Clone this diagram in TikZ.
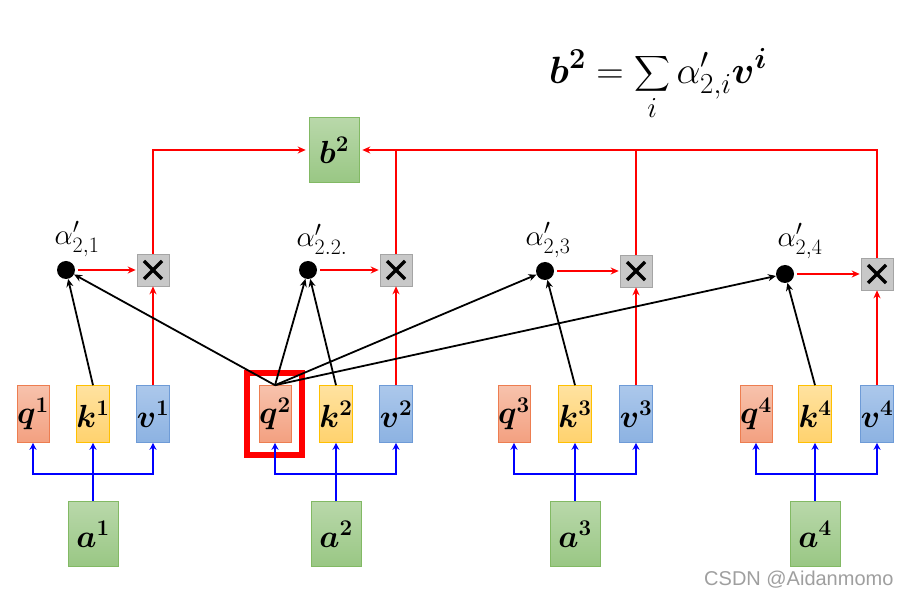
\RequirePackage{fix-cm}
\documentclass[tikz,border=0pt]{standalone}
\usepackage{fontspec}
\usepackage{amsmath}
\usepackage{bm}
\newfontfamily\markfont{Liberation Sans}
\usetikzlibrary{arrows.meta}
\DeclareMathSizes{29}{29}{22}{15}
\DeclareMathSizes{38}{38}{29}{21}
\definecolor{qtop}{RGB}{247,194,172}
\definecolor{qbot}{RGB}{243,160,128}
\definecolor{qline}{RGB}{237,125,80}
\definecolor{ktop}{RGB}{255,226,160}
\definecolor{kbot}{RGB}{255,210,110}
\definecolor{kline}{RGB}{255,192,0}
\definecolor{vtop}{RGB}{172,200,235}
\definecolor{vbot}{RGB}{140,178,226}
\definecolor{vline}{RGB}{110,155,215}
\definecolor{gtop}{RGB}{185,216,170}
\definecolor{gbot}{RGB}{153,199,132}
\definecolor{gline}{RGB}{130,185,100}
\definecolor{multfill}{RGB}{200,200,200}
\definecolor{multline}{RGB}{165,165,165}

\begin{document}
\begin{tikzpicture}[
    x=1pt, y=-1pt,
    box/.style={rectangle, line width=0.6pt, inner sep=0pt,
        minimum width=31pt, minimum height=57pt,
        font=\fontsize{32}{34}\selectfont\boldmath},
    qbox/.style={box, draw=qline, top color=qtop, bottom color=qbot},
    kbox/.style={box, draw=kline, top color=ktop, bottom color=kbot},
    vbox/.style={box, draw=vline, top color=vtop, bottom color=vbot},
    gbox/.style={box, draw=gline, top color=gtop, bottom color=gbot,
        minimum width=50pt, minimum height=65pt},
    dot/.style={circle, fill=black, inner sep=0pt, minimum size=18pt},
    mult/.style={rectangle, draw=multline, fill=multfill, line width=0.6pt,
        inner sep=0pt, minimum size=32pt,
        path picture={
            \draw[black, line width=3.2pt]
                ([shift={(-9pt,-9pt)}]path picture bounding box.center) --
                ([shift={(9pt,9pt)}]path picture bounding box.center);
            \draw[black, line width=3.2pt]
                ([shift={(-9pt,9pt)}]path picture bounding box.center) --
                ([shift={(9pt,-9pt)}]path picture bounding box.center);
        }},
    lab/.style={font=\fontsize{29}{31}\selectfont},
    ka/.style={-{Stealth[length=8pt,width=7pt]}, line width=1.8pt, draw=black},
    ra/.style={-{Stealth[length=8pt,width=7pt]}, line width=1.8pt, draw=red},
    rl/.style={line width=1.8pt, draw=red},
    ba/.style={-{Stealth[length=7pt,width=7pt]}, line width=2.4pt, draw=blue},
]
\useasboundingbox (0,0) rectangle (911,601);

% ===== formula =====
\node[font=\fontsize{38}{40}\selectfont] (eq) at (658,84)
    {$\displaystyle \bm{b}^{\bm{2}} = \sum_{i} \alpha'_{2,i}\bm{v}^{\bm{i}}$};

% ===== inputs and q, k, v =====
\foreach \n/\q/\k/\v in {1/33/93/153, 2/275/336/396, 3/514/575/636, 4/756/815/877} {
    \node[qbox] (q\n) at (\q,414) {$q^{\n}$};
    \node[kbox] (k\n) at (\k,414) {$k^{\n}$};
    \node[vbox] (v\n) at (\v,414) {$v^{\n}$};
    \node[gbox] (a\n) at (\k,534) {$a^{\n}$};
    \coordinate (j\n) at (\k,474);
}

% ===== scores and products =====
\node[dot]  (d1) at (66,270)  {};
\node[mult] (m1) at (153,270) {};
\node[dot]  (d2) at (308,270) {};
\node[mult] (m2) at (396,270) {};
\node[dot]  (d3) at (545,271) {};
\node[mult] (m3) at (636,271) {};
\node[dot]  (d4) at (785,274) {};
\node[mult] (m4) at (877,274) {};

\node[lab] (l1) at (77,239)  {$\alpha'_{2,1}$};
\node[lab] (l2) at (322,239) {$\alpha'_{2.2.}$};
\node[lab] (l3) at (548,240) {$\alpha'_{2,3}$};
\node[lab] (l4) at (800,241) {$\alpha'_{2,4}$};

\node[gbox] (b2) at (334,150) {$b^{2}$};

% highlighted query
\node[draw=red, line width=6pt, inner sep=0pt,
    minimum width=55pt, minimum height=82pt] (frame) at (274.5,414) {};

% ===== connectors =====
\foreach \n in {1,...,4} {
    \draw[ba] (a\n.north) -- (k\n.south);
    \draw[ba] (j\n) -| (q\n.south);
    \draw[ba] (j\n) -| (v\n.south);
    \draw[ra, shorten <=3pt, shorten >=1pt] (d\n.east) -- (m\n.west);
    \draw[ra] (v\n.north) -- (m\n.south);
}

\foreach \a/\b in {k1/d1, q2/d1, q2/d2, k2/d2, q2/d3, k3/d3, q2/d4, k4/d4}
    \draw[ka] (\a.north) -- (\b);

\draw[ra, shorten >=3pt] (m1.north) |- (b2.west);
\draw[ra, shorten >=3pt] (m4.north) |- (b2.east);
\draw[rl] (m2.north) -- (m2.north |- b2.east);
\draw[rl] (m3.north) -- (m3.north |- b2.east);

\node[font=\markfont\fontsize{20}{22}\selectfont, text=gray!75, anchor=south east]
    (mark) at (897,592) {CSDN @Aidanmomo};
\end{tikzpicture}
\end{document}
